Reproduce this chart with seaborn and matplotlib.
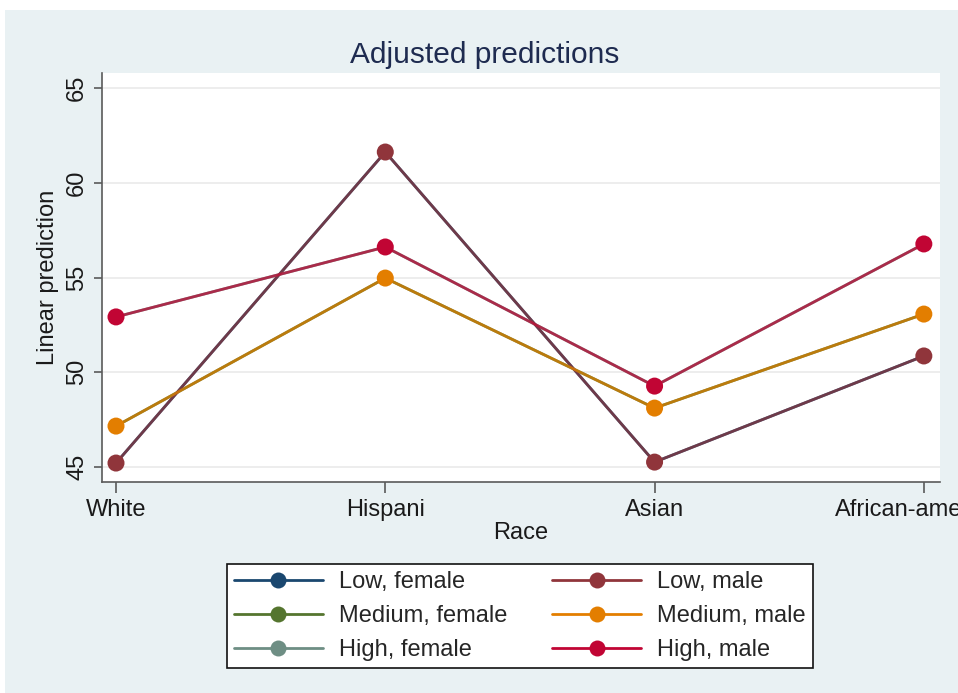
import matplotlib
matplotlib.use("Agg")
import matplotlib.pyplot as plt
from matplotlib.lines import Line2D
from matplotlib.patches import Rectangle
import seaborn as sns
import pandas as pd

races = ["White", "Hispani", "Asian", "African-american"]
groups = ["Low, female", "Medium, female", "High, female",
          "Low, male", "Medium, male", "High, male"]

low_female = [45.21, 61.62, 45.26, 50.86]
medium_female = [47.16, 54.97, 48.11, 53.07]
high_female = [52.92, 56.61, 49.27, 56.77]
low_male = [45.21, 61.62, 45.26, 50.86]
medium_male = [47.16, 54.97, 48.11, 53.07]
high_male = [52.92, 56.61, 49.27, 56.77]

colors = ["#1A476F", "#55752F", "#6E8E84", "#90353B", "#E37E00", "#C10534"]
yticks = [45, 50, 55, 60, 65]

series = [low_female, medium_female, high_female, low_male, medium_male, high_male]
rows = []
for g, vals in zip(groups, series):
    for r, v in zip(races, vals):
        rows.append({"race": r, "group": g, "pred": v})
df = pd.DataFrame(rows)

sns.set_style("white")
plt.rcParams["font.family"] = ["Liberation Sans", "DejaVu Sans"]

fig = plt.figure(figsize=(9.58, 6.93), dpi=100)
fig.patch.set_facecolor("white")
fig.patches.append(Rectangle((5 / 958, 0.0), 953 / 958, 1 - 10 / 693,
                             transform=fig.transFigure, facecolor="#E9F1F3",
                             edgecolor="none", zorder=-10))

ax = fig.add_axes([102 / 958, 1 - 482 / 693, 838 / 958, 409 / 693])
ax.set_facecolor("white")

palette = dict(zip(groups, colors))
sns.lineplot(data=df, x="race", y="pred", hue="group", hue_order=groups,
             palette=palette, sort=False, linewidth=2.0, legend=False, ax=ax)
for line, g in zip(ax.get_lines(), groups):
    if g.endswith(" male"):
        line.set_alpha(0.72)
    line.set_zorder(3)

male = df[df["group"].str.endswith(" male")]
sns.scatterplot(data=male, x="race", y="pred", hue="group",
                hue_order=groups[3:], palette=palette, s=150,
                edgecolor="none", legend=False, ax=ax, zorder=4)

ax.set_xlim(-0.052, 3.06)
ax.set_ylim(44.21, 65.79)
ax.set_yticks(yticks)
ax.set_yticklabels([str(t) for t in yticks], rotation=90, va="center",
                   fontsize=17, color="#1A1A1A")
ax.tick_params(axis="x", labelsize=17, colors="#1A1A1A", length=8,
               width=1.2, direction="out", pad=4, bottom=True)
ax.tick_params(axis="y", length=6, width=1.2, direction="out", pad=4, left=True)
ax.tick_params(axis="both", color="#5A5A5A")

ax.grid(axis="y", color="#EAEAEA", linewidth=1.2)
ax.set_axisbelow(True)
for side in ["top", "right"]:
    ax.spines[side].set_visible(False)
for side in ["left", "bottom"]:
    ax.spines[side].set_color("#5A5A5A")
    ax.spines[side].set_linewidth(1.2)

ax.set_xlabel("Race", fontsize=17, color="#1A1A1A", labelpad=1)
ax.set_ylabel("Linear prediction", fontsize=17, color="#1A1A1A", labelpad=5)

fig.text(485 / 958, 1 - 55 / 693, "Adjusted predictions", ha="center",
         va="center", fontsize=21.5, color="#1E2B50")

handles = [Line2D([0], [0], color=c, linewidth=2.0, marker="o",
                  markersize=11.5, markeredgewidth=0) for c in colors]
leg = fig.legend(handles, groups, loc="center", ncol=2,
                 bbox_to_anchor=(520 / 958, 1 - 616 / 693),
                 frameon=True, fancybox=False, fontsize=17,
                 handlelength=3.75, numpoints=1, labelspacing=0.5,
                 columnspacing=1.9, handletextpad=0.7, borderpad=0.3,
                 borderaxespad=0)
leg.get_frame().set_edgecolor("#111111")
leg.get_frame().set_linewidth(1.2)
leg.get_frame().set_facecolor("white")
leg.get_frame().set_alpha(1)

fig.savefig("out.png", dpi=100, facecolor=fig.get_facecolor())
